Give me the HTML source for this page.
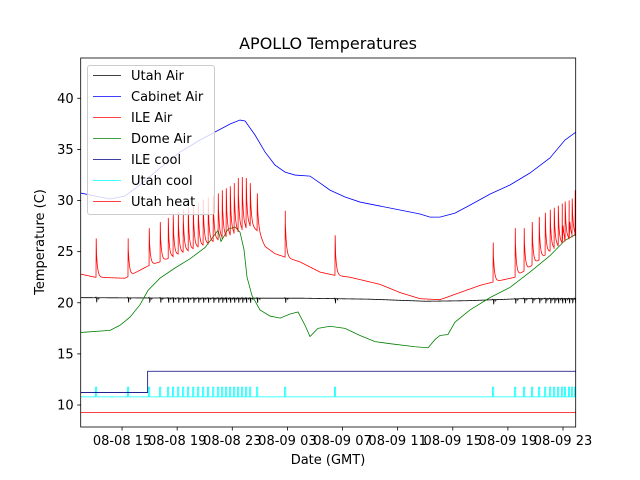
<!DOCTYPE html>
<html><head><meta charset="utf-8"><style>
body{margin:0;background:#fff}
svg{display:block;font-family:"DejaVu Sans","Liberation Sans",sans-serif}
</style></head><body>
<svg id="chart" width="640" height="480">
<rect width="640" height="480" fill="#fff"/>
<text x="328" y="49" font-size="16" text-anchor="middle">APOLLO Temperatures</text>
<g id="plot"></g>
<g id="axes"></g>
<text x="328" y="464" font-size="13" text-anchor="middle">Date (GMT)</text>
<text transform="translate(44,242) rotate(-90)" font-size="13" text-anchor="middle">Temperature (C)</text>
<g id="legend"></g>
</svg>
<script>
// time in hours since 08-08 00:00 GMT
const xTickHours=[15,19,23,27,31,35,39,43,47];
const xTickLabels=["08-08 15","08-08 19","08-08 23","08-09 03","08-09 07","08-09 11","08-09 15","08-09 19","08-09 23"];
const yTicks=[10,15,20,25,30,35,40];
const cabinetT=[12.0,13.04,14.13,15.21,16.3,17.75,19.21,20.66,21.75,22.84,23.56,23.93,24.65,25.38,26.1,26.83,27.55,28.64,29.37,30.09,31.18,32.27,33.72,35.17,36.62,37.35,38.07,39.16,40.25,41.7,43.15,44.6,46.05,47.14,47.94];
const cabinetV=[30.73,30.44,30.15,30.44,31.52,33.18,34.74,35.92,36.7,37.48,37.87,37.78,36.41,34.74,33.47,32.78,32.49,32.39,31.71,31.02,30.34,29.85,29.46,29.07,28.68,28.38,28.38,28.77,29.55,30.63,31.52,32.69,34.16,35.92,36.7];
const iletBase=[12.0,13.04,15.21,16.88,17.75,19.21,20.66,22.11,23.56,24.29,24.87,25.38,26.1,26.76,27.91,29.37,30.38,31.54,33.72,35.17,36.62,38.07,39.52,40.97,41.84,43.52,44.6,46.05,47.14,47.94];
const ileBaseV=[22.8,22.5,22.4,23.6,24.0,24.8,25.5,26.2,27.0,27.5,27.0,25.5,24.8,24.5,24.0,23.0,22.7,22.5,21.8,21.0,20.4,20.3,21.0,21.7,22.0,22.5,23.5,25.0,26.0,26.6];
const spikeT=[13.11,15.43,16.96,17.76,18.34,18.7,19.07,19.43,19.79,20.16,20.52,20.88,21.24,21.61,21.97,22.26,22.55,22.84,23.13,23.42,23.71,24.0,24.29,24.8,26.83,30.45,41.92,43.52,44.17,44.75,45.26,45.7,46.06,46.35,46.64,46.93,47.14,47.43,47.65,47.87];
const spikePeak=[26.3,26.3,27.3,27.9,28.3,28.6,28.9,29.1,29.4,29.6,29.8,30.1,30.3,30.5,30.7,31.0,31.2,31.4,31.7,32.2,32.3,32.2,31.7,30.7,29.0,26.6,25.9,27.3,27.3,27.9,28.4,28.8,29.1,29.3,29.5,29.7,29.9,30.0,30.2,31.0];
const domeT=[12.02,14.13,14.85,15.58,16.3,16.88,17.75,18.84,19.93,21.02,21.97,22.18,22.69,23.2,23.56,23.85,24.07,24.43,25.01,25.74,26.47,27.19,27.77,28.28,28.64,29.22,30.09,31.18,32.27,33.36,34.45,36.26,37.21,37.71,38.07,38.65,39.16,40.25,41.7,43.15,44.6,46.05,47.14,47.94];
const domeV=[17.1,17.3,17.8,18.6,19.8,21.2,22.4,23.4,24.3,25.4,27.1,26.0,27.2,27.4,26.9,25.2,22.5,20.7,19.3,18.7,18.5,18.9,19.1,17.8,16.7,17.5,17.7,17.5,16.8,16.2,16.0,15.7,15.6,16.4,16.8,16.9,18.1,19.3,20.5,21.5,23.0,24.6,26.1,26.7];
const utahAirT=[12,20,28,33,37,40,44,48];
const utahAirV=[20.5,20.45,20.45,20.35,20.15,20.2,20.4,20.4];
const ileCoolT=[12,16.86,16.86,48];
const ileCoolV=[11.23,11.23,13.3,13.3];
const utahCoolBase=10.8, utahCoolOn=11.75;
const utahHeatV=9.28;

const X0=80.7,X1=575.7,Y0=58,Y1=427,H0=12,H1=47.92,V0=7.85,V1=43.94;
const sx=h=>X0+(h-H0)/(H1-H0)*(X1-X0);
const sy=v=>Y1-(v-V0)/(V1-V0)*(Y1-Y0);
const NS="http://www.w3.org/2000/svg";
const plot=document.getElementById('plot'),axes=document.getElementById('axes'),leg=document.getElementById('legend');
function interp(T,V,t){if(t<=T[0])return V[0];for(let i=1;i<T.length;i++){if(t<=T[i]){const f=(t-T[i-1])/(T[i]-T[i-1]);return V[i-1]+f*(V[i]-V[i-1]);}}return V[V.length-1];}
function line(pts,color,name,w){const p=document.createElementNS(NS,'polyline');
p.setAttribute('points',pts.map(q=>sx(q[0]).toFixed(2)+','+sy(q[1]).toFixed(2)).join(' '));
p.setAttribute('fill','none');p.setAttribute('stroke',color);p.setAttribute('stroke-width',w||0.8);


plot.appendChild(p);}
const cp=document.createElementNS(NS,'clipPath');cp.id='clip';const cr=document.createElementNS(NS,'rect');
cr.setAttribute('x',X0);cr.setAttribute('y',Y0);cr.setAttribute('width',X1-X0);cr.setAttribute('height',Y1-Y0);cp.appendChild(cr);plot.appendChild(cp);
plot.setAttribute('clip-path','url(#clip)');
line([[H0,utahHeatV],[48,utahHeatV]],'#ff0000','utah-heat-line');
{let pts=[[H0,utahCoolBase]];spikeT.forEach(t=>{pts.push([t-0.03,utahCoolBase],[t-0.03,utahCoolOn],[t+0.05,utahCoolOn],[t+0.05,utahCoolBase]);});pts.push([48,utahCoolBase]);line(pts,'#00ffff','utah-cool-line');}
line(ileCoolT.map((t,i)=>[t,ileCoolV[i]]),'#000080','ile-cool-line');
{let all=[];for(let t=H0;t<=48;t+=0.05)all.push([t,interp(utahAirT,utahAirV,t)]);
spikeT.forEach(t=>{const b=interp(utahAirT,utahAirV,t);all.push([t-0.01,b+0.05],[t+0.05,b-0.45],[t+0.2,b-0.1]);});
all.sort((a,b)=>a[0]-b[0]);line(all,'#000000','utah-air-line');}
line(domeT.map((t,i)=>[t,domeV[i]]),'#008000','dome-air-line');
{let all=[];for(let t=H0;t<=48;t+=0.05){let v=interp(iletBase,ileBaseV,t);
spikeT.forEach((s,i)=>{const d=t-s;if(d>0.02&&d<2){const b=interp(iletBase,ileBaseV,s);v+= (spikePeak[i]-b)*Math.exp(-(d)/0.09)*0.9;}});all.push([t,v]);}
spikeT.forEach((s,i)=>{all.push([s,interp(iletBase,ileBaseV,s)],[s+0.015,spikePeak[i]]);});
all.sort((a,b)=>a[0]-b[0]);line(all,'#ff0000','ile-air-line');}
line(cabinetT.map((t,i)=>[t,cabinetV[i]]),'#0000ff','cabinet-air-line');
const fr=document.createElementNS(NS,'rect');fr.setAttribute('x',X0);fr.setAttribute('y',Y0);fr.setAttribute('width',X1-X0);fr.setAttribute('height',Y1-Y0);
fr.setAttribute('fill','none');fr.setAttribute('stroke','#000');fr.setAttribute('stroke-width','0.8');


axes.appendChild(fr);
xTickHours.forEach((h,i)=>{const x=sx(h);const l=document.createElementNS(NS,'line');
l.setAttribute('x1',x);l.setAttribute('x2',x);l.setAttribute('y1',Y1);l.setAttribute('y2',Y1+3.5);l.setAttribute('stroke','#000');l.setAttribute('stroke-width','0.8');


axes.appendChild(l);
const tx=document.createElementNS(NS,'text');tx.setAttribute('x',x);tx.setAttribute('y',Y1+18);tx.setAttribute('font-size','13');tx.setAttribute('text-anchor','middle');tx.textContent=xTickLabels[i];


axes.appendChild(tx);});
yTicks.forEach(v=>{const y=sy(v);const l=document.createElementNS(NS,'line');
l.setAttribute('x1',X0-3.5);l.setAttribute('x2',X0);l.setAttribute('y1',y);l.setAttribute('y2',y);l.setAttribute('stroke','#000');l.setAttribute('stroke-width','0.8');


axes.appendChild(l);
const tx=document.createElementNS(NS,'text');tx.setAttribute('x',X0-7);tx.setAttribute('y',y+4.5);tx.setAttribute('font-size','13');tx.setAttribute('text-anchor','end');tx.textContent=v;


axes.appendChild(tx);});
const legNames=["Utah Air","Cabinet Air","ILE Air","Dome Air","ILE cool","Utah cool","Utah heat"];
const legColors=["#000000","#0000ff","#ff0000","#008000","#000080","#00ffff","#ff0000"];
const bx=document.createElementNS(NS,'rect');bx.setAttribute('x',87.5);bx.setAttribute('y',65.5);bx.setAttribute('width',127);bx.setAttribute('height',149);bx.setAttribute('rx',2.5);
bx.setAttribute('fill','rgba(255,255,255,0.8)');bx.setAttribute('stroke','#cccccc');bx.setAttribute('stroke-width','1');


leg.appendChild(bx);
legNames.forEach((n,i)=>{const y=75.5+i*21;const l=document.createElementNS(NS,'line');
l.setAttribute('x1',93);l.setAttribute('x2',121);l.setAttribute('y1',y);l.setAttribute('y2',y);l.setAttribute('stroke',legColors[i]);l.setAttribute('stroke-width','0.8');


leg.appendChild(l);
const tx=document.createElementNS(NS,'text');tx.setAttribute('x',131);tx.setAttribute('y',y+4.5);tx.setAttribute('font-size','13');tx.textContent=n;


leg.appendChild(tx);});
</script>
</body></html>
